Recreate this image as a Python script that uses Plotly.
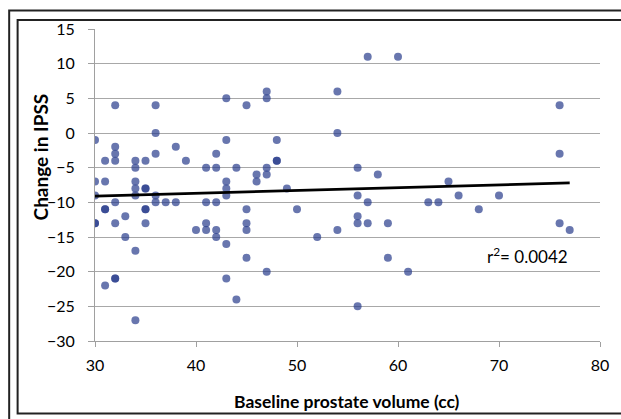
import plotly.graph_objects as go

# Baseline prostate volume (cc)
volume = [32, 36, 43, 45, 30, 36, 43, 32, 38, 32, 36, 42, 31, 32, 34, 35, 39, 34, 41, 42,
          44, 30, 31, 34, 43, 46, 46, 35, 35, 34, 43,
          34, 30, 36, 36, 37, 38, 41, 42, 43, 32, 31, 31, 35, 35, 45, 30, 30, 32, 35,
          33, 40, 41, 41, 42, 42, 33, 45, 45, 43, 34, 45, 32, 32, 43, 31, 44, 34,
          57, 60, 47, 47, 54, 48, 54, 48, 48, 47, 47, 56, 58, 49,
          56, 57, 63, 64, 50, 56, 56, 57, 59, 54, 52, 59, 47, 61, 56,
          76, 76, 65, 66, 68, 70, 76, 77]
# Change in IPSS
ipss = [4, 4, 5, 4, -1, 0, -1, -2, -2, -3, -3, -3, -4, -4, -4, -4, -4, -5, -5, -5,
        -5, -7, -7, -7, -7, -6, -7, -8, -8, -8, -8,
        -9, -9, -9, -10, -10, -10, -10, -10, -9, -10, -11, -11, -11, -11, -11, -13, -13, -13, -13,
        -12, -14, -14, -13, -14, -15, -15, -13, -14, -16, -17, -18, -21, -21, -21, -22, -24, -27,
        11, 11, 6, 5, 6, -1, 0, -4, -4, -5, -6, -5, -6, -8,
        -9, -10, -10, -10, -11, -12, -13, -13, -13, -14, -15, -18, -20, -20, -25,
        4, -3, -7, -9, -11, -9, -13, -14]

trend_x = [30, 77]
trend_y = [-9.1, -7.2]

x_ticks = [30, 40, 50, 60, 70, 80]
y_ticks = [15, 10, 5, 0, -5, -10, -15, -20, -25, -30]

FONT = "Lato, 'Open Sans', sans-serif"

fig = go.Figure()
fig.add_trace(go.Scatter(
    x=volume, y=ipss, mode="markers",
    marker=dict(size=8, color="rgb(40,60,140)", opacity=0.7, line=dict(width=0)),
    showlegend=False, hoverinfo="x+y"))
fig.add_trace(go.Scatter(
    x=trend_x, y=trend_y, mode="lines",
    line=dict(color="black", width=2.8), showlegend=False))

L, R, T, B = 95, 17, 29, 78
W, H = 621, 419
pw, ph = W - L - R, H - T - B

def px(xp):
    return (xp - L) / pw

def py(yp):
    return (H - B - yp) / ph

fig.update_layout(
    width=W, height=H,
    margin=dict(l=L, r=R, t=T, b=B, pad=0),
    paper_bgcolor="white", plot_bgcolor="white",
    font=dict(family=FONT, size=16, color="#000000"),
    xaxis=dict(range=[30, 80], tickvals=x_ticks, showgrid=False, zeroline=False,
               showline=True, linecolor="#a0a0a0", linewidth=1,
               ticks="outside", ticklen=5, tickcolor="#a0a0a0",
               ticklabelstandoff=5, fixedrange=True),
    yaxis=dict(range=[-30, 15], tickvals=y_ticks, showgrid=True, gridcolor="#a8a8a8",
               gridwidth=1, zeroline=False, showline=True, linecolor="#a0a0a0",
               linewidth=1, ticks="outside", ticklen=6, tickcolor="#a0a0a0",
               ticklabelstandoff=10, fixedrange=True),
    shapes=[
        dict(type="rect", xref="paper", yref="paper",
             x0=px(8.5), x1=px(640), y0=py(10.5), y1=py(440),
             line=dict(color="#222222", width=2)),
        dict(type="rect", xref="paper", yref="paper",
             x0=px(17), x1=px(640), y0=py(20), y1=py(413.5),
             line=dict(color="#222222", width=2)),
    ],
    annotations=[
        dict(text="<b>Baseline prostate volume (cc)</b>", xref="paper", yref="paper",
             x=px(349), y=py(401), xanchor="center", yanchor="middle",
             showarrow=False, font=dict(size=17.5, family=FONT)),
        dict(text="<b>Change in IPSS</b>", xref="paper", yref="paper",
             x=px(40), y=py(157), xanchor="center", yanchor="middle", textangle=-90,
             showarrow=False, font=dict(size=19, family=FONT)),
        dict(text="r<sup>2</sup>= 0.0042", xref="x", yref="y",
             x=77, y=-17.6, xanchor="right", yanchor="middle",
             showarrow=False, font=dict(size=17, family=FONT)),
    ],
)

fig.write_html("out.html")
